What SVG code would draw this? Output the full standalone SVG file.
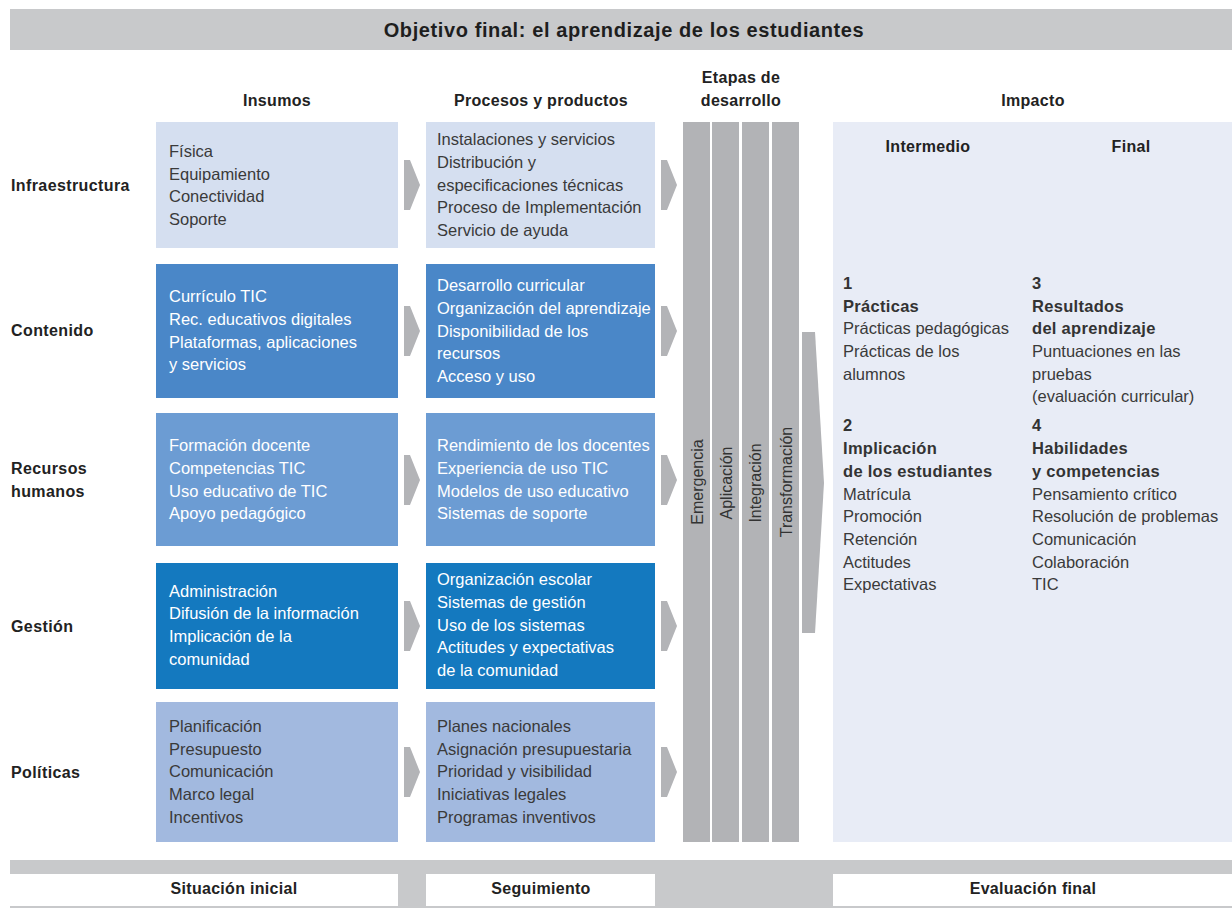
<svg xmlns="http://www.w3.org/2000/svg" width="1232" height="908" viewBox="0 0 1232 908">
<style>
text{font-family:"Liberation Sans",Arial,sans-serif;}
.t{font-size:16.5px;fill:#3a3a3a;}
.w{font-size:16.5px;fill:#ffffff;}
.b{font-size:16px;font-weight:bold;fill:#222;letter-spacing:0.4px;}
.bi{font-size:16.5px;font-weight:bold;fill:#333;letter-spacing:0.3px;}
.h{font-size:16px;font-weight:bold;fill:#222;text-anchor:middle;letter-spacing:0.3px;}
.v{font-size:16px;fill:#333;text-anchor:middle;}
.band{fill:#c8c9cb;}
.stage{fill:#b2b3b6;}
.arr{fill:#b3b4b7;}
</style>
<defs>
<polygon id="chev" points="0,-25 6,-25 16,0 6,25 0,25"/>
</defs>

<!-- header -->
<g id="title">
<rect class="band" x="10" y="9" width="1222" height="41"/>
<text x="624" y="37" text-anchor="middle" style="font-size:20px;font-weight:bold;fill:#1e1e1e;letter-spacing:0.6px">Objetivo final: el aprendizaje de los estudiantes</text>
</g>

<g id="headers">
<text class="h" x="277" y="106">Insumos</text>
<text class="h" x="541" y="106">Procesos y productos</text>
<text class="h" x="741" y="83">Etapas de</text>
<text class="h" x="741" y="106">desarrollo</text>
<text class="h" x="1033" y="106">Impacto</text>
</g>

<g id="row-labels">
<text class="b" x="11" y="191">Infraestructura</text>
<text class="b" x="11" y="336">Contenido</text>
<text class="b" x="11" y="474">Recursos</text>
<text class="b" x="11" y="497">humanos</text>
<text class="b" x="11" y="632">Gestión</text>
<text class="b" x="11" y="778">Políticas</text>
</g>

<!-- Row 1 -->
<g id="insumos-infra">
<rect x="156" y="122" width="242" height="126" fill="#d5dff0"/>
<text class="t" x="169" y="157">Física</text>
<text class="t" x="169" y="180">Equipamiento</text>
<text class="t" x="169" y="202">Conectividad</text>
<text class="t" x="169" y="225">Soporte</text>
</g>
<g id="procesos-infra">
<rect x="426" y="122" width="229" height="126" fill="#d5dff0"/>
<text class="t" x="437" y="145">Instalaciones y servicios</text>
<text class="t" x="437" y="168">Distribución y</text>
<text class="t" x="437" y="191">especificaciones técnicas</text>
<text class="t" x="437" y="213">Proceso de Implementación</text>
<text class="t" x="437" y="236">Servicio de ayuda</text>
</g>

<!-- Row 2 -->
<g id="insumos-contenido">
<rect x="156" y="264" width="242" height="134" fill="#4a87c8"/>
<text class="w" x="169" y="302">Currículo TIC</text>
<text class="w" x="169" y="325">Rec. educativos digitales</text>
<text class="w" x="169" y="348">Plataformas, aplicaciones</text>
<text class="w" x="169" y="370">y servicios</text>
</g>
<g id="procesos-contenido">
<rect x="426" y="264" width="229" height="134" fill="#4a87c8"/>
<text class="w" x="437" y="291">Desarrollo curricular</text>
<text class="w" x="437" y="314">Organización del aprendizaje</text>
<text class="w" x="437" y="337">Disponibilidad de los</text>
<text class="w" x="437" y="359">recursos</text>
<text class="w" x="437" y="382">Acceso y uso</text>
</g>

<!-- Row 3 -->
<g id="insumos-rrhh">
<rect x="156" y="413" width="242" height="133" fill="#6c9cd3"/>
<text class="w" x="169" y="451">Formación docente</text>
<text class="w" x="169" y="474">Competencias TIC</text>
<text class="w" x="169" y="497">Uso educativo de TIC</text>
<text class="w" x="169" y="519">Apoyo pedagógico</text>
</g>
<g id="procesos-rrhh">
<rect x="426" y="413" width="229" height="133" fill="#6c9cd3"/>
<text class="w" x="437" y="451">Rendimiento de los docentes</text>
<text class="w" x="437" y="474">Experiencia de uso TIC</text>
<text class="w" x="437" y="497">Modelos de uso educativo</text>
<text class="w" x="437" y="519">Sistemas de soporte</text>
</g>

<!-- Row 4 -->
<g id="insumos-gestion">
<rect x="156" y="563" width="242" height="126" fill="#1479bf"/>
<text class="w" x="169" y="597">Administración</text>
<text class="w" x="169" y="619">Difusión de la información</text>
<text class="w" x="169" y="642">Implicación de la</text>
<text class="w" x="169" y="665">comunidad</text>
</g>
<g id="procesos-gestion">
<rect x="426" y="563" width="229" height="126" fill="#1479bf"/>
<text class="w" x="437" y="585">Organización escolar</text>
<text class="w" x="437" y="608">Sistemas de gestión</text>
<text class="w" x="437" y="631">Uso de los sistemas</text>
<text class="w" x="437" y="653">Actitudes y expectativas</text>
<text class="w" x="437" y="676">de la comunidad</text>
</g>

<!-- Row 5 -->
<g id="insumos-politicas">
<rect x="156" y="702" width="242" height="140" fill="#a2b9df"/>
<text class="t" x="169" y="732">Planificación</text>
<text class="t" x="169" y="755">Presupuesto</text>
<text class="t" x="169" y="777">Comunicación</text>
<text class="t" x="169" y="800">Marco legal</text>
<text class="t" x="169" y="823">Incentivos</text>
</g>
<g id="procesos-politicas">
<rect x="426" y="702" width="229" height="140" fill="#a2b9df"/>
<text class="t" x="437" y="732">Planes nacionales</text>
<text class="t" x="437" y="755">Asignación presupuestaria</text>
<text class="t" x="437" y="777">Prioridad y visibilidad</text>
<text class="t" x="437" y="800">Iniciativas legales</text>
<text class="t" x="437" y="823">Programas inventivos</text>
</g>

<!-- stages -->
<g id="etapas">
<rect class="stage" x="683" y="122" width="27" height="720"/>
<rect class="stage" x="712" y="122" width="27" height="720"/>
<rect class="stage" x="742" y="122" width="27" height="720"/>
<rect class="stage" x="772" y="122" width="27" height="720"/>
<text class="v" transform="translate(703,482) rotate(-90)">Emergencia</text>
<text class="v" transform="translate(732,483) rotate(-90)">Aplicación</text>
<text class="v" transform="translate(761,483) rotate(-90)">Integración</text>
<text class="v" transform="translate(792,482) rotate(-90)">Transformación</text>
</g>

<!-- connectors -->
<g id="connectors">
<use href="#chev" class="arr" x="404" y="185"/>
<use href="#chev" class="arr" x="404" y="331"/>
<use href="#chev" class="arr" x="404" y="480"/>
<use href="#chev" class="arr" x="404" y="626"/>
<use href="#chev" class="arr" x="404" y="772"/>
<use href="#chev" class="arr" x="661" y="185"/>
<use href="#chev" class="arr" x="661" y="331"/>
<use href="#chev" class="arr" x="661" y="480"/>
<use href="#chev" class="arr" x="661" y="626"/>
<use href="#chev" class="arr" x="661" y="772"/>
<polygon class="stage" points="802,332 815,332 824,483 815,633 802,633"/>
</g>

<!-- impact -->
<g id="impacto">
<rect x="833" y="122" width="399" height="720" fill="#e8ecf6"/>
<text class="h" x="928" y="152">Intermedio</text>
<text class="h" x="1131" y="152">Final</text>
<text class="bi" x="843" y="289">1</text>
<text class="bi" x="843" y="312">Prácticas</text>
<text class="t" x="843" y="334">Prácticas pedagógicas</text>
<text class="t" x="843" y="357">Prácticas de los</text>
<text class="t" x="843" y="380">alumnos</text>
<text class="bi" x="843" y="431">2</text>
<text class="bi" x="843" y="454">Implicación</text>
<text class="bi" x="843" y="477">de los estudiantes</text>
<text class="t" x="843" y="500">Matrícula</text>
<text class="t" x="843" y="522">Promoción</text>
<text class="t" x="843" y="545">Retención</text>
<text class="t" x="843" y="568">Actitudes</text>
<text class="t" x="843" y="590">Expectativas</text>
<text class="bi" x="1032" y="289">3</text>
<text class="bi" x="1032" y="312">Resultados</text>
<text class="bi" x="1032" y="334">del aprendizaje</text>
<text class="t" x="1032" y="357">Puntuaciones en las</text>
<text class="t" x="1032" y="380">pruebas</text>
<text class="t" x="1032" y="402">(evaluación curricular)</text>
<text class="bi" x="1032" y="431">4</text>
<text class="bi" x="1032" y="454">Habilidades</text>
<text class="bi" x="1032" y="477">y competencias</text>
<text class="t" x="1032" y="500">Pensamiento crítico</text>
<text class="t" x="1032" y="522">Resolución de problemas</text>
<text class="t" x="1032" y="545">Comunicación</text>
<text class="t" x="1032" y="568">Colaboración</text>
<text class="t" x="1032" y="590">TIC</text>
</g>

<!-- footer -->
<g id="footer">
<rect class="band" x="10" y="860" width="1222" height="48"/>
<rect x="10" y="874" width="388" height="32" fill="#fff"/>
<rect x="426" y="874" width="229" height="32" fill="#fff"/>
<rect x="833" y="874" width="399" height="32" fill="#fff"/>
<text class="h" x="234" y="894">Situación inicial</text>
<text class="h" x="541" y="894">Seguimiento</text>
<text class="h" x="1033" y="894">Evaluación final</text>
</g>
</svg>
